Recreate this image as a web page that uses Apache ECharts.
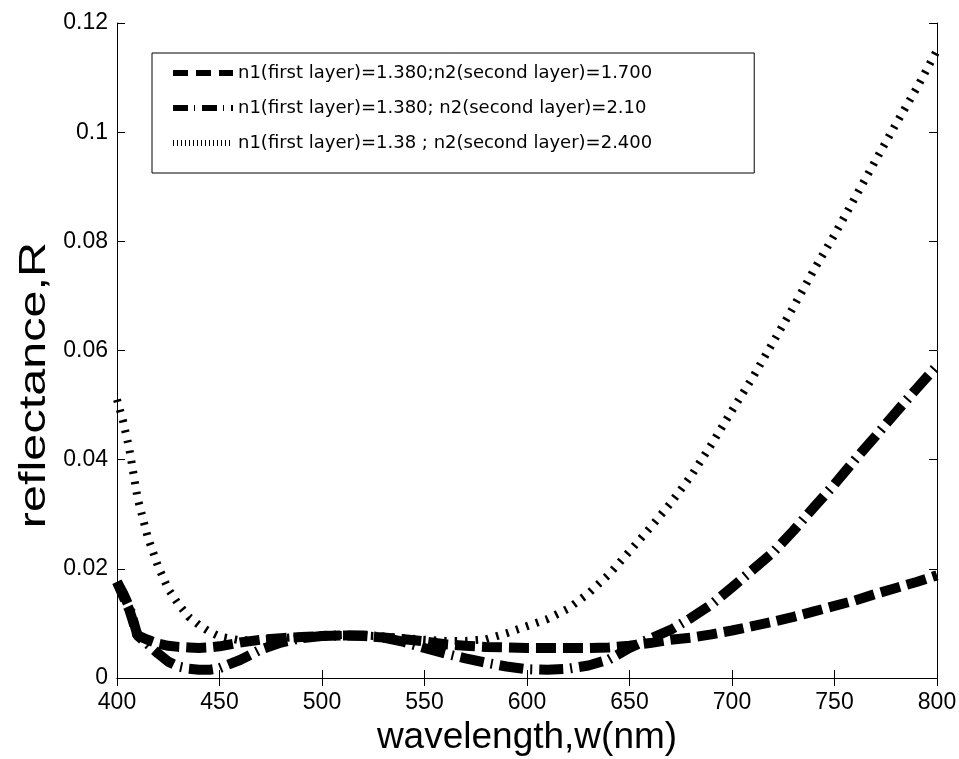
<!DOCTYPE html>
<html>
<head>
<meta charset="utf-8">
<script src="https://cdn.jsdelivr.net/npm/echarts@6/dist/echarts.min.js"></script>
<style>
  html, body { margin: 0; padding: 0; background: #fff; }
  #chart { width: 959px; height: 759px; }
</style>
</head>
<body>
<div id="chart"></div>
<script>
// wavelength samples (nm)
var wavelength = [400, 403, 406, 410, 415, 420, 425, 430, 435, 440, 445, 450,
  460, 470, 480, 490, 500, 510, 520, 530, 540, 550, 560, 570, 580, 590,
  600, 610, 620, 630, 640, 650, 660, 670, 680, 690, 700, 710, 720, 730,
  740, 750, 760, 770, 780, 790, 800];

// n2 = 1.700 (dashed)
var reflN2_170 = [0.0176, 0.0150, 0.0125, 0.0078, 0.0070, 0.0063, 0.0059, 0.0057, 0.0056, 0.0055, 0.0056, 0.0058,
  0.0065, 0.0070, 0.0073, 0.0075, 0.0077, 0.0078, 0.0077, 0.0074, 0.0071, 0.0067, 0.0062, 0.0059, 0.0057, 0.0056,
  0.0055, 0.0055, 0.0055, 0.0055, 0.0056, 0.0059, 0.0064, 0.0070, 0.0074, 0.0080, 0.0087, 0.0095, 0.0103, 0.0112,
  0.0122, 0.0132, 0.0142, 0.0154, 0.0165, 0.0176, 0.0188];

// n2 = 2.10 (dash-dot)
var reflN2_210 = [0.0176, 0.0155, 0.0130, 0.0078, 0.0062, 0.0045, 0.0030, 0.0021, 0.0017, 0.0015, 0.0015, 0.0018,
  0.0033, 0.0052, 0.0065, 0.0073, 0.0077, 0.0078, 0.0078, 0.0074, 0.0066, 0.0055, 0.0045, 0.0036, 0.0028, 0.0021,
  0.0016, 0.0015, 0.0017, 0.0023, 0.0034, 0.0055, 0.0072, 0.0088, 0.0110, 0.0135, 0.0166, 0.0198, 0.0230, 0.0270,
  0.0313, 0.0355, 0.0400, 0.0443, 0.0487, 0.0530, 0.0572];

// n2 = 2.400 (dotted)
var reflN2_240 = [0.0510, 0.0470, 0.0420, 0.0330, 0.0258, 0.0205, 0.0163, 0.0135, 0.0112, 0.0097, 0.0085, 0.0076,
  0.0069, 0.0070, 0.0073, 0.0076, 0.0078, 0.0079, 0.0078, 0.0076, 0.0073, 0.0070, 0.0068, 0.0068, 0.0071, 0.0082,
  0.0095, 0.0108, 0.0127, 0.0155, 0.0190, 0.0232, 0.0275, 0.0320, 0.0370, 0.0428, 0.0490, 0.0550, 0.0615, 0.0680,
  0.0748, 0.0812, 0.0880, 0.0948, 0.1015, 0.1080, 0.1150];

var seriesNames = [
  'n1(first layer)=1.380;n2(second layer)=1.700',
  'n1(first layer)=1.380; n2(second layer)=2.10',
  'n1(first layer)=1.38 ; n2(second layer)=2.400'
];

function pairs(ys) {
  return wavelength.map(function (w, i) { return [w, ys[i]]; });
}

var FONT = 'Liberation Sans, Arial, sans-serif';

var boxAxis = {
  axisLine: { show: true, lineStyle: { color: '#000', width: 1 } },
  axisTick: { show: true, inside: true, length: 8, lineStyle: { color: '#000' } },
  splitLine: { show: false }
};

var chart = echarts.init(document.getElementById('chart'));

chart.setOption({
  backgroundColor: '#fff',
  animation: false,
  grid: { left: 117, right: 22, top: 23, bottom: 81, outerBoundsMode: 'none', containLabel: false },
  legend: {
    orient: 'vertical',
    left: 152,
    top: 53,
    padding: [10, 102, 20, 18],
    itemWidth: 60,
    itemHeight: 20,
    itemGap: 15,
    borderColor: '#000',
    borderWidth: 1,
    borderRadius: 0,
    backgroundColor: '#fff',
    itemStyle: { opacity: 0 },
    textStyle: { fontFamily: 'DejaVu Sans', fontSize: 18, color: '#000', lineHeight: 20 },
    data: [
      { name: seriesNames[0], lineStyle: { width: 6, type: [15, 8], cap: 'butt' } },
      { name: seriesNames[1], lineStyle: { width: 6, type: [15, 6, 1, 7], cap: 'butt' } },
      { name: seriesNames[2], lineStyle: { width: 6, type: [1, 3], cap: 'butt' } }
    ]
  },
  xAxis: [
    Object.assign({
      type: 'value', position: 'bottom', min: 400, max: 800, interval: 50,
      name: 'wavelength,w(nm)', nameLocation: 'middle', nameGap: 37,
      nameTextStyle: { fontFamily: FONT, fontSize: 37, color: '#000' },
      axisLabel: { fontFamily: FONT, fontSize: 23, color: '#000', margin: 13 }
    }, boxAxis),
    Object.assign({
      type: 'value', position: 'top', min: 400, max: 800, interval: 50,
      axisLabel: { show: false }
    }, boxAxis)
  ],
  yAxis: [
    Object.assign({
      type: 'value', position: 'left', min: 0, max: 0.12, interval: 0.02,
      axisLabel: { fontFamily: FONT, fontSize: 23, color: '#000', margin: 9 }
    }, boxAxis),
    Object.assign({
      type: 'value', position: 'right', min: 0, max: 0.12, interval: 0.02,
      axisLabel: { show: false }
    }, boxAxis)
  ],
  graphic: [{
    type: 'text',
    x: 35,
    y: 385,
    rotation: Math.PI / 2,
    scaleX: 1.35,
    scaleY: 1,
    style: {
      text: 'reflectance,R',
      fontFamily: FONT,
      fontSize: 36,
      fill: '#000',
      textAlign: 'center',
      textVerticalAlign: 'middle'
    }
  }],
  series: [
    {
      name: seriesNames[0], type: 'line', symbol: 'none', data: pairs(reflN2_170),
      lineStyle: { color: '#000', width: 10, type: [20, 7], cap: 'butt' }
    },
    {
      name: seriesNames[1], type: 'line', symbol: 'none', data: pairs(reflN2_210),
      lineStyle: { color: '#000', width: 10, type: [24, 7, 2, 7], cap: 'butt' }
    },
    {
      name: seriesNames[2], type: 'line', symbol: 'none', data: pairs(reflN2_240),
      lineStyle: { color: '#000', width: 8, type: [2.5, 8], cap: 'butt' }
    }
  ]
});
</script>
</body>
</html>
